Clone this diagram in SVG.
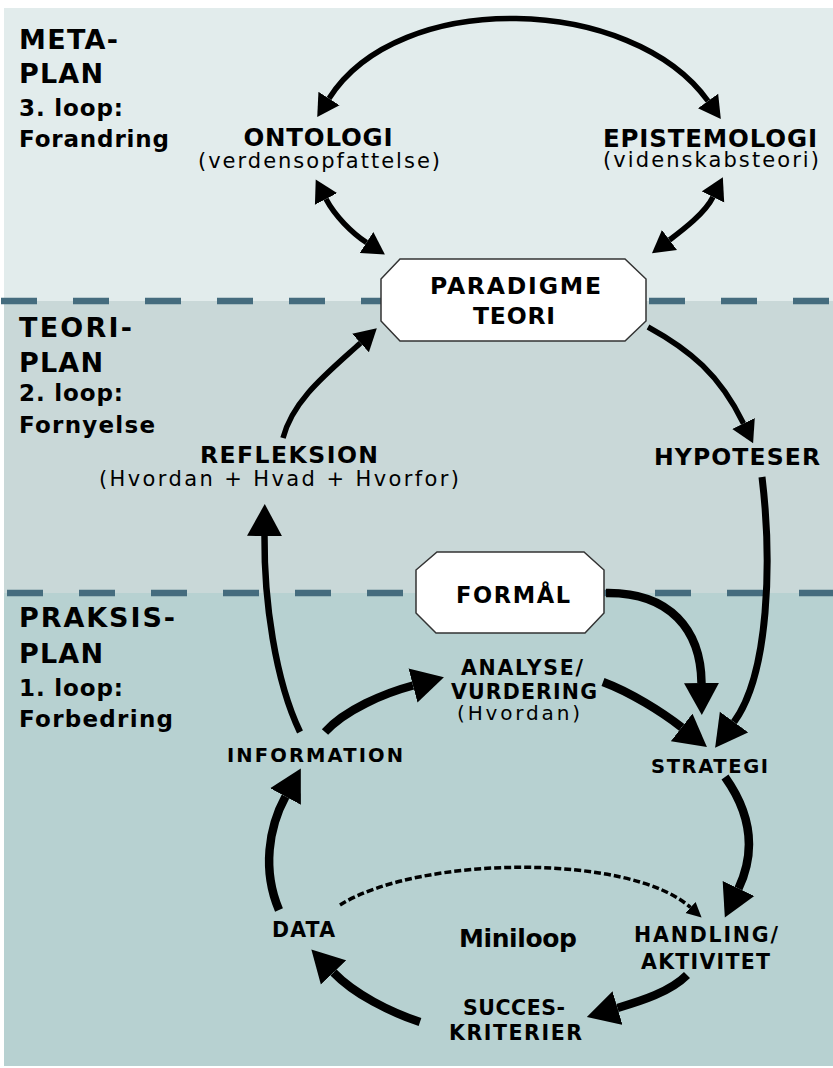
<svg xmlns="http://www.w3.org/2000/svg" width="833" height="1068" viewBox="0 0 833 1068">
<style>
.b{font-family:"DejaVu Sans","Liberation Sans",sans-serif;font-weight:bold;fill:#000}
.r{font-family:"DejaVu Sans","Liberation Sans",sans-serif;font-weight:normal;fill:#000}
.c{text-anchor:middle}
.box{fill:#fff;stroke:#333;stroke-width:1.5}
.sep{stroke:#456c7e;stroke-width:6.5;stroke-dasharray:36 36;fill:none}
.a{fill:none;stroke:#000;stroke-linecap:butt}
.m{stroke-width:5.5;marker-end:url(#hm)}
.md{stroke-width:5.5;marker-start:url(#hm);marker-end:url(#hm)}
.l{stroke-width:8.5;marker-end:url(#hl)}
</style>
<defs>
<marker id="hm" viewBox="0 -13 23 26" refX="0" refY="0" markerWidth="23" markerHeight="26" markerUnits="userSpaceOnUse" orient="auto-start-reverse"><path d="M0,-12.5 L22,0 L0,12.5 Z" fill="#000"/></marker>
<marker id="hl" viewBox="0 -18 33 36" refX="0" refY="0" markerWidth="33" markerHeight="36" markerUnits="userSpaceOnUse" orient="auto"><path d="M0,-17.5 L32,0 L0,17.5 Z" fill="#000"/></marker>
<marker id="hs" viewBox="0 -8 16 16" refX="0" refY="0" markerWidth="16" markerHeight="16" markerUnits="userSpaceOnUse" orient="auto"><path d="M0,-7.5 L15,0 L0,7.5 Z" fill="#000"/></marker>
</defs>
<rect width="833" height="1068" fill="#fff"/>
<g id="bands">
<rect x="4" y="8" width="829" height="293" fill="#e2ecec"/>
<rect x="4" y="301" width="829" height="292" fill="#c9d8d8"/>
<rect x="4" y="593" width="829" height="473" fill="#b7d1d1"/>
<line class="sep" x1="1" y1="301" x2="833" y2="301"/>
<line class="sep" x1="7" y1="593" x2="833" y2="593"/>
</g>
<g id="plan-labels">
<text class="b" x="19" y="49" font-size="27" textLength="99" lengthAdjust="spacing">META-</text>
<text class="b" x="19" y="83" font-size="27" textLength="84" lengthAdjust="spacing">PLAN</text>
<text class="b" x="19" y="116" font-size="23" textLength="104" lengthAdjust="spacing">3. loop:</text>
<text class="b" x="19" y="147" font-size="23" textLength="150" lengthAdjust="spacing">Forandring</text>
<text class="b" x="19" y="337" font-size="27" textLength="113" lengthAdjust="spacing">TEORI-</text>
<text class="b" x="19" y="372" font-size="27" textLength="84" lengthAdjust="spacing">PLAN</text>
<text class="b" x="19" y="401" font-size="23" textLength="104" lengthAdjust="spacing">2. loop:</text>
<text class="b" x="19" y="433" font-size="23" textLength="136" lengthAdjust="spacing">Fornyelse</text>
<text class="b" x="19" y="627" font-size="27" textLength="156" lengthAdjust="spacing">PRAKSIS-</text>
<text class="b" x="19" y="663" font-size="27" textLength="84" lengthAdjust="spacing">PLAN</text>
<text class="b" x="19" y="696" font-size="23" textLength="104" lengthAdjust="spacing">1. loop:</text>
<text class="b" x="19" y="727" font-size="23" textLength="154" lengthAdjust="spacing">Forbedring</text>
</g>
<g id="connectors">
<path class="a md" d="M329,98.5 C399,-12 632,-5 708,101"/>
<path class="a md" d="M326,199 C335,216 352,233 366.5,242.5"/>
<path class="a md" d="M713,197 C705,213 684.3,228.8 669.5,240"/>
<path class="a m" d="M283,438 C293,400 326.4,373.8 360.5,343"/>
<path class="a m" d="M648,327 C690,350 719.75,374.75 743.5,423.5"/>
<path class="a l" d="M762,477 C772,560 769.4,673.6 734,722" style="stroke-width:7"/>
<path class="a l" d="M606,593 C670,592 701,630 701.5,683"/>
<path class="a l" d="M603,682 C630,692 662,712 681.7,727.4"/>
<path class="a l" d="M325,732 C345,710 384,693.2 413,685.5"/>
<path class="a l" d="M300,732 C275,680 264,600 264.5,536" style="stroke-width:6.5"/>
<path class="a l" d="M279,910 C262,870 268.8,827.2 285.5,796.5"/>
<path class="a l" d="M725,777 C752,815 755.6,852.3 738.5,888.5"/>
<path class="a l" d="M687,975 C670,992 641.5,1000.9 617.5,1008"/>
<path class="a l" d="M420,1022 C390,1012 354.3,994.2 333.5,972.5"/>
<path class="a" d="M340,905 C420,855 631.5,853.6 690.5,907.5" style="stroke-width:3.5;stroke-dasharray:7 3;marker-end:url(#hs)"/>
</g>
<g id="ontologi">
<text class="b c" x="318" y="146" font-size="24.5" textLength="149" lengthAdjust="spacing">ONTOLOGI</text>
<text class="r c" x="319" y="168" font-size="21" textLength="242" lengthAdjust="spacing">(verdensopfattelse)</text>
</g>
<g id="epistemologi">
<text class="b c" x="710" y="147" font-size="24.5" textLength="214" lengthAdjust="spacing">EPISTEMOLOGI</text>
<text class="r c" x="711" y="167" font-size="21" textLength="216" lengthAdjust="spacing">(videnskabsteori)</text>
</g>
<g id="paradigme">
<polygon class="box" points="400,259 625,259 646,279 646,321 625,341 400,341 381,321 381,279"/>
<text class="b c" x="515.5" y="294" font-size="23.5" textLength="171" lengthAdjust="spacing">PARADIGME</text>
<text class="b c" x="514" y="324" font-size="23.5" textLength="82" lengthAdjust="spacing">TEORI</text>
</g>
<g id="refleksion">
<text class="b c" x="289" y="463" font-size="23.5" textLength="178" lengthAdjust="spacing">REFLEKSION</text>
<text class="r c" x="279" y="486" font-size="21" textLength="360" lengthAdjust="spacing">(Hvordan + Hvad + Hvorfor)</text>
</g>
<g id="hypoteser">
<text class="b c" x="737" y="465" font-size="23.5" textLength="166" lengthAdjust="spacing">HYPOTESER</text>
</g>
<g id="formaal">
<polygon class="box" points="437,552 584,552 604,570 604,613 585,633 436,633 416,613 416,570"/>
<text class="b c" x="513" y="603" font-size="22.5" textLength="114" lengthAdjust="spacing">FORMÅL</text>
</g>
<g id="analyse">
<text class="b c" x="522" y="675" font-size="20.5" textLength="122" lengthAdjust="spacing">ANALYSE/</text>
<text class="b c" x="524" y="699" font-size="20.5" textLength="146" lengthAdjust="spacing">VURDERING</text>
<text class="r c" x="518.5" y="720" font-size="20" textLength="123" lengthAdjust="spacing">(Hvordan)</text>
</g>
<g id="information">
<text class="b c" x="315" y="762" font-size="19.5" textLength="176" lengthAdjust="spacing">INFORMATION</text>
</g>
<g id="strategi">
<text class="b c" x="709.5" y="773" font-size="19.5" textLength="117" lengthAdjust="spacing">STRATEGI</text>
</g>
<g id="data">
<text class="b c" x="303.5" y="937" font-size="20.5" textLength="63" lengthAdjust="spacing">DATA</text>
</g>
<g id="miniloop">
<text class="b c" x="518" y="947" font-size="25" textLength="118" lengthAdjust="spacing">Miniloop</text>
</g>
<g id="handling">
<text class="b c" x="706" y="942" font-size="20.5" textLength="144" lengthAdjust="spacing">HANDLING/</text>
<text class="b c" x="705.5" y="969" font-size="20.5" textLength="129" lengthAdjust="spacing">AKTIVITET</text>
</g>
<g id="succes">
<text class="b c" x="514" y="1015" font-size="20.5" textLength="102" lengthAdjust="spacing">SUCCES-</text>
<text class="b c" x="515.5" y="1040" font-size="20.5" textLength="133" lengthAdjust="spacing">KRITERIER</text>
</g>
</svg>
